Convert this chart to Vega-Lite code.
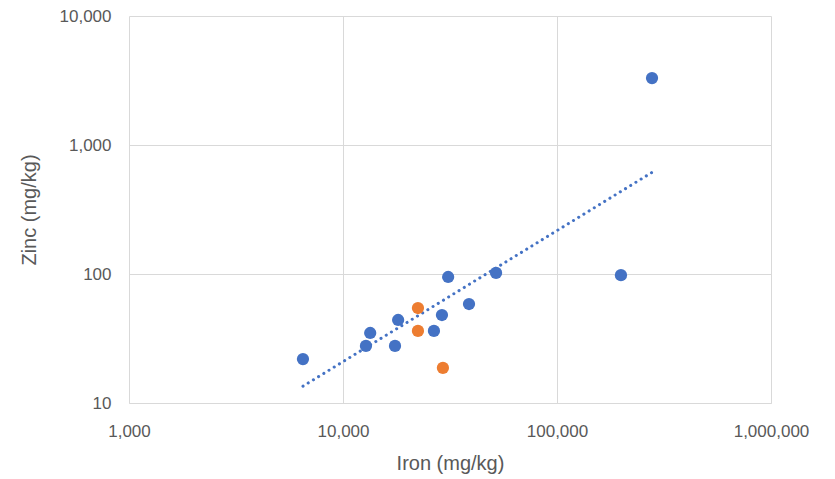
{
  "$schema": "https://vega.github.io/schema/vega-lite/v6.json",
  "width": 642,
  "height": 387,
  "autosize": {"type": "none"},
  "padding": {"left": 129, "top": 16, "right": 64, "bottom": 76},
  "background": "white",
  "config": {
    "view": {"stroke": null},
    "font": "Liberation Sans",
    "axis": {
      "labelColor": "#595959",
      "titleColor": "#595959",
      "labelFontSize": 17,
      "titleFontSize": 20,
      "titleFontWeight": "normal",
      "gridColor": "#d9d9d9",
      "gridWidth": 1,
      "domain": false,
      "ticks": false,
      "labelFlush": false
    }
  },
  "data": {
    "values": [
      {"iron": 6500, "zinc": 21.9, "group": "A"},
      {"iron": 12800, "zinc": 27.7, "group": "A"},
      {"iron": 13400, "zinc": 34.9, "group": "A"},
      {"iron": 18100, "zinc": 44, "group": "A"},
      {"iron": 17500, "zinc": 27.7, "group": "A"},
      {"iron": 26600, "zinc": 36.2, "group": "A"},
      {"iron": 29000, "zinc": 48.1, "group": "A"},
      {"iron": 31000, "zinc": 94.8, "group": "A"},
      {"iron": 38800, "zinc": 58.5, "group": "A"},
      {"iron": 51900, "zinc": 102, "group": "A"},
      {"iron": 199000, "zinc": 98, "group": "A"},
      {"iron": 278000, "zinc": 3300, "group": "A"},
      {"iron": 22400, "zinc": 54.5, "group": "B"},
      {"iron": 22400, "zinc": 36.2, "group": "B"},
      {"iron": 29300, "zinc": 18.7, "group": "B"}
    ]
  },
  "layer": [
    {
      "transform": [
        {"filter": "datum.group === 'A'"},
        {"regression": "zinc", "on": "iron", "method": "pow"}
      ],
      "mark": {"type": "line", "color": "#4472C4", "strokeWidth": 3, "strokeDash": [0.1, 6], "strokeCap": "round"},
      "encoding": {
        "x": {"field": "iron", "type": "quantitative"},
        "y": {"field": "zinc", "type": "quantitative"}
      }
    },
    {
      "mark": {"type": "circle", "size": 150, "opacity": 1},
      "encoding": {
        "x": {
          "field": "iron",
          "type": "quantitative",
          "scale": {"type": "log", "domain": [1000, 1000000], "nice": false},
          "axis": {
            "values": [1000, 10000, 100000, 1000000],
            "format": ",d",
            "title": "Iron (mg/kg)",
            "labelPadding": 20,
            "titlePadding": 14,
            "grid": true,
            "domain": true,
            "domainColor": "#d9d9d9"
          }
        },
        "y": {
          "field": "zinc",
          "type": "quantitative",
          "scale": {"type": "log", "domain": [10, 10000], "nice": false},
          "axis": {
            "values": [10, 100, 1000, 10000],
            "format": ",d",
            "title": "Zinc (mg/kg)",
            "labelPadding": 18,
            "titlePadding": 20,
            "grid": true
          }
        },
        "color": {
          "field": "group",
          "type": "nominal",
          "scale": {"domain": ["A", "B"], "range": ["#4472C4", "#ED7D31"]},
          "legend": null
        }
      }
    }
  ]
}
